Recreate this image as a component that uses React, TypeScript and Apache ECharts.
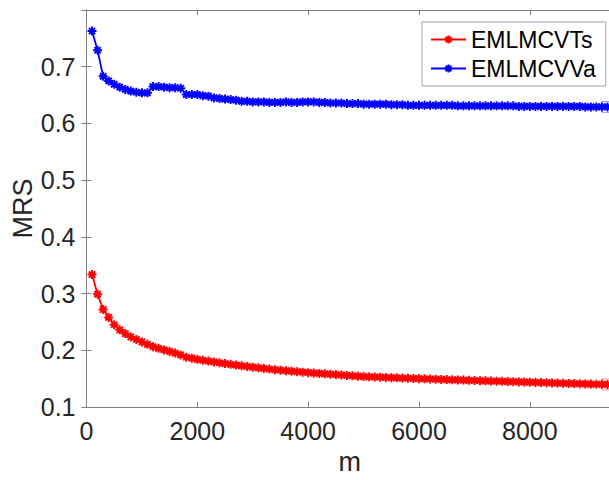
import React, { useEffect, useRef } from "react";
import * as echarts from "echarts";

const mValues = [
  100, 200, 300, 400, 500, 600, 700, 800, 900, 1000,
  1100, 1200, 1300, 1400, 1500, 1600, 1700, 1800, 1900, 2000,
  2100, 2200, 2300, 2400, 2500, 2600, 2700, 2800, 2900, 3000,
  3100, 3200, 3300, 3400, 3500, 3600, 3700, 3800, 3900, 4000,
  4100, 4200, 4300, 4400, 4500, 4600, 4700, 4800, 4900, 5000,
  5100, 5200, 5300, 5400, 5500, 5600, 5700, 5800, 5900, 6000,
  6100, 6200, 6300, 6400, 6500, 6600, 6700, 6800, 6900, 7000,
  7100, 7200, 7300, 7400, 7500, 7600, 7700, 7800, 7900, 8000,
  8100, 8200, 8300, 8400, 8500, 8600, 8700, 8800, 8900, 9000,
  9100, 9200, 9300, 9400,
];

const tsValues = [
  0.3335, 0.299, 0.272, 0.258, 0.245, 0.236, 0.2295, 0.2235, 0.219, 0.2147,
  0.2106, 0.2064, 0.2035, 0.2006, 0.198, 0.195, 0.1918, 0.1877, 0.186, 0.184,
  0.1824, 0.1809, 0.1794, 0.178, 0.1766, 0.1752, 0.1739, 0.1726, 0.1714, 0.1702,
  0.1691, 0.168, 0.1669, 0.1659, 0.1649, 0.164, 0.1631, 0.1622, 0.1614, 0.1606,
  0.1599, 0.1592, 0.1585, 0.1578, 0.1571, 0.1564, 0.1557, 0.155, 0.1543, 0.1537,
  0.1533, 0.1529, 0.1525, 0.1521, 0.1517, 0.1514, 0.151, 0.1507, 0.1503, 0.15,
  0.1497, 0.1494, 0.149, 0.1487, 0.1484, 0.148, 0.1477, 0.1474, 0.147, 0.1467,
  0.1464, 0.1461, 0.1458, 0.1455, 0.1452, 0.1449, 0.1446, 0.1443, 0.144, 0.1437,
  0.1434, 0.1431, 0.1428, 0.1425, 0.1422, 0.1419, 0.1416, 0.1413, 0.141, 0.1407,
  0.1404, 0.1401, 0.1399, 0.1398,
];

const vaValues = [
  0.763, 0.729, 0.683, 0.675, 0.669, 0.664, 0.66, 0.657, 0.655, 0.654,
  0.654, 0.665, 0.665, 0.664, 0.663, 0.663, 0.662, 0.651, 0.651, 0.651,
  0.649, 0.648, 0.645, 0.644, 0.643, 0.642, 0.641, 0.639, 0.639, 0.638,
  0.638, 0.638, 0.637, 0.637, 0.637, 0.638, 0.637, 0.637, 0.638, 0.638,
  0.638, 0.637, 0.637, 0.636, 0.636, 0.636, 0.635, 0.635, 0.635, 0.634,
  0.634, 0.634, 0.634, 0.634, 0.633, 0.633, 0.633, 0.632, 0.632, 0.632,
  0.632, 0.632, 0.632, 0.632, 0.632, 0.632, 0.631, 0.631, 0.631, 0.631,
  0.631, 0.631, 0.631, 0.631, 0.631, 0.631, 0.631, 0.63, 0.63, 0.63,
  0.63, 0.63, 0.63, 0.63, 0.63, 0.63, 0.63, 0.63, 0.63, 0.629,
  0.629, 0.629, 0.629, 0.629,
];

const xTicks = [0, 2000, 4000, 6000, 8000];
const yTicks = [0.1, 0.2, 0.3, 0.4, 0.5, 0.6, 0.7];
const seriesNames = ["EMLMCVTs", "EMLMCVVa"];

const STAR = "path://M5,0L5,10M0,5L10,5M1.5,1.5L8.5,8.5M1.5,8.5L8.5,1.5";
const AXIS_COLOR = "#808080";
const TEXT_COLOR = "#262626";
const FONT = "'Liberation Sans', Arial, Helvetica, sans-serif";

export default function App() {
  const ref = useRef<HTMLDivElement>(null);

  useEffect(() => {
    if (!ref.current) return;
    const chart = echarts.init(ref.current, null, { renderer: "svg" });
    const mk = (vals: number[]) => mValues.map((m, i) => [m, vals[i]]);
    const lastIdx = mValues.length - 1;

    const lineSeries = (name: string, vals: number[], color: string) => ({
      name,
      type: "line",
      data: mk(vals),
      symbol: STAR,
      symbolSize: 9,
      showSymbol: true,
      showAllSymbol: true,
      lineStyle: { color, width: 1.8 },
      itemStyle: { color: "none", borderColor: color, borderWidth: 2 },
      emphasis: { disabled: true },
      z: 3,
    });

    const tipSeries = (vals: number[], color: string) => ({
      type: "scatter",
      data: [[mValues[lastIdx], vals[lastIdx]]],
      symbol: "rect",
      symbolSize: 11,
      itemStyle: { color: "none", borderColor: color, borderWidth: 1 },
      silent: true,
      z: 4,
    });

    chart.setOption({
      animation: false,
      backgroundColor: "#ffffff",
      grid: {
        left: 86.5,
        top: 10,
        height: 397,
        width: 526.5,
        containLabel: false,
        outerBoundsMode: "none",
      },
      legend: {
        data: seriesNames,
        left: 422,
        top: 22,
        orient: "vertical",
        itemWidth: 35,
        itemHeight: 10,
        itemGap: 6,
        padding: [6, 10, 6, 8],
        backgroundColor: "#ffffff",
        borderColor: "#a0a0a0",
        borderWidth: 1,
        textStyle: { fontSize: 23, color: "#000000", fontFamily: FONT },
        selectedMode: false,
      },
      xAxis: [
        {
          type: "value",
          min: 0,
          max: 9500,
          interval: 2000,
          position: "bottom",
          name: "m",
          nameLocation: "middle",
          nameGap: 41,
          nameMoveOverlap: false,
          nameTextStyle: { fontSize: 27, color: TEXT_COLOR, fontFamily: FONT },
          axisLine: { show: true, lineStyle: { color: AXIS_COLOR, width: 1 } },
          axisTick: { show: true, inside: true, length: 5, lineStyle: { color: AXIS_COLOR } },
          axisLabel: {
            fontSize: 25,
            color: TEXT_COLOR,
            fontFamily: FONT,
            margin: 11,
            showMaxLabel: false,
            formatter: (v: number) => (xTicks.includes(v) ? String(v) : ""),
          },
          splitLine: { show: false },
        },
        {
          type: "value",
          min: 0,
          max: 9500,
          interval: 2000,
          position: "top",
          axisLine: { show: true, lineStyle: { color: AXIS_COLOR, width: 1 } },
          axisTick: { show: true, inside: true, length: 5, lineStyle: { color: AXIS_COLOR } },
          axisLabel: { show: false },
          splitLine: { show: false },
        },
      ],
      yAxis: [
        {
          type: "value",
          min: 0.1,
          max: 0.8,
          interval: 0.1,
          position: "left",
          name: "MRS",
          nameLocation: "middle",
          nameGap: 50,
          nameMoveOverlap: false,
          nameRotate: 90,
          nameTextStyle: { fontSize: 27, color: TEXT_COLOR, fontFamily: FONT },
          axisLine: { show: true, lineStyle: { color: AXIS_COLOR, width: 1 } },
          axisTick: { show: true, inside: true, length: 5, lineStyle: { color: AXIS_COLOR } },
          axisLabel: {
            fontSize: 25,
            color: TEXT_COLOR,
            fontFamily: FONT,
            margin: 11,
            showMaxLabel: false,
            formatter: (v: number) => {
              const r = Math.round(v * 10) / 10;
              return yTicks.includes(r) ? r.toFixed(1) : "";
            },
          },
          splitLine: { show: false },
        },
        {
          type: "value",
          min: 0.1,
          max: 0.8,
          interval: 0.1,
          position: "right",
          axisLine: { show: true, lineStyle: { color: AXIS_COLOR, width: 1 } },
          axisTick: { show: true, inside: true, length: 5, lineStyle: { color: AXIS_COLOR } },
          axisLabel: { show: false },
          splitLine: { show: false },
        },
      ],
      series: [
        lineSeries(seriesNames[0], tsValues, "#ff0000"),
        lineSeries(seriesNames[1], vaValues, "#0000ff"),
        tipSeries(tsValues, "rgba(255,0,0,0.55)"),
        tipSeries(vaValues, "rgba(0,0,255,0.45)"),
      ],
    });

    return () => chart.dispose();
  }, []);

  return (
    <div
      ref={ref}
      style={{ position: "absolute", left: 0, top: 0, width: 609, height: 480, background: "#fff" }}
    />
  );
}
